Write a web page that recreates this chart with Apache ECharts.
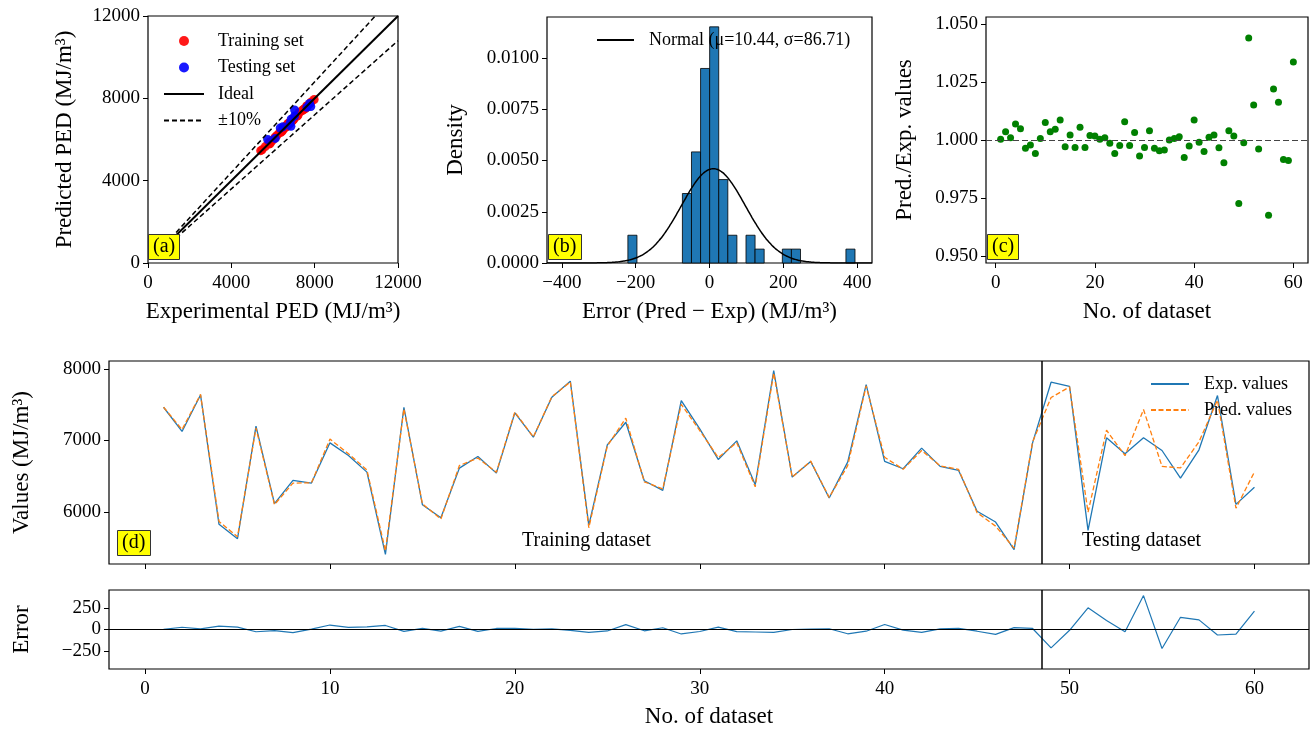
<!DOCTYPE html>
<html>
<head>
<meta charset="utf-8">
<script src="https://cdn.jsdelivr.net/npm/echarts@6/dist/echarts.min.js"></script>
<style>
  html, body { margin: 0; background: #fff; }
  #chart { width: 1315px; height: 729px; }
</style>
</head>
<body>
<div id="chart"></div>
<script>
// dataset index, experimental and predicted PED (MJ/m3)
const datasetNo = [1, 2, 3, 4, 5, 6, 7, 8, 9, 10, 11, 12, 13, 14, 15, 16, 17, 18, 19, 20,
  21, 22, 23, 24, 25, 26, 27, 28, 29, 30, 31, 32, 33, 34, 35, 36, 37, 38, 39, 40,
  41, 42, 43, 44, 45, 46, 47, 48, 49, 50, 51, 52, 53, 54, 55, 56, 57, 58, 59, 60]
const expValues = [7464, 7126, 7636, 5829, 5629, 7200, 6117, 6442, 6405, 6967,
  6791, 6558, 5410, 7464, 6103, 5922, 6614, 6777, 6544, 7386,
  7046, 7604, 7828, 5815, 6939, 7255, 6438, 6303, 7557, 7162,
  6735, 6995, 6382, 7976, 6489, 6707, 6196, 6698, 7781, 6707,
  6605, 6893, 6638, 6582, 6012, 5861, 5475, 6967, 7814, 7757,
  5745, 7037, 6814, 7037, 6860, 6475, 6870, 7628, 6108, 6348]
const predValues = [7466, 7152, 7644, 5869, 5656, 7174, 6104, 6405, 6409, 7019,
  6815, 6588, 5457, 7442, 6116, 5903, 6650, 6755, 6556, 7399,
  7048, 7612, 7817, 5781, 6922, 7312, 6423, 6323, 7505, 7139,
  6762, 6970, 6353, 7942, 6489, 6712, 6205, 6648, 7761, 6765,
  6598, 6859, 6646, 6596, 5992, 5804, 5497, 6979, 7600, 7748,
  5998, 7143, 6787, 7432, 6638, 6617, 6982, 7564, 6054, 6561]
const errValues = [2, 26, 8, 40, 27, -26, -13, -37, 4, 52,
  24, 30, 47, -22, 13, -19, 36, -22, 12, 13,
  2, 8, -11, -34, -17, 57, -15, 20, -52, -23,
  27, -25, -29, -34, 0, 5, 9, -50, -20, 58,
  -7, -34, 8, 14, -20, -57, 22, 12, -214, -9,
  253, 106, -27, 395, -222, 142, 112, -64, -54, 213]
const ratioValues = [1.0003, 1.0036, 1.0010, 1.0069, 1.0048, 0.9964, 0.9978, 0.9942, 1.0006, 1.0075,
  1.0036, 1.0046, 1.0086, 0.9971, 1.0022, 0.9968, 1.0055, 0.9968, 1.0019, 1.0017,
  1.0003, 1.0010, 0.9986, 0.9942, 0.9976, 1.0079, 0.9976, 1.0032, 0.9931, 0.9968,
  1.0040, 0.9964, 0.9954, 0.9957, 1.0000, 1.0007, 1.0014, 0.9925, 0.9974, 1.0086,
  0.9990, 0.9950, 1.0012, 1.0022, 0.9967, 0.9902, 1.0040, 1.0017, 0.9726, 0.9988,
  1.0440, 1.0151, 0.9961, 1.0561, 0.9676, 1.0220, 1.0163, 0.9916, 0.9912, 1.0336]
const trainCount = 48
const splitAt = 48.5

// histogram of errors (non-empty bins only)
const histLeft = [-221, -73.4, -48.8, -24.2, 0.4, 25, 49.6, 98.8, 123.4, 197.2, 221.8, 369.4]
const histWidth = 24.6
const histDensity = [0.001355, 0.00339, 0.00542, 0.00949, 0.01152, 0.00407,
  0.001355, 0.001355, 0.000678, 0.000678, 0.000678, 0.000678]
const normalMu = 10.44
const normalSigma = 86.71

const idealX = [1350, 12000]

const ticksPED = [0, 4000, 8000, 12000]
const ticksErrX = [-400, -200, 0, 200, 400]
const ticksDensity = [0, 0.0025, 0.005, 0.0075, 0.01]
const ticksNoSmall = [0, 20, 40, 60]
const ticksRatio = [0.95, 0.975, 1, 1.025, 1.05]
const ticksNo = [0, 10, 20, 30, 40, 50, 60]
const ticksValues = [6000, 7000, 8000]
const ticksError = [-250, 0, 250]

const FONT = '"Liberation Serif", "DejaVu Serif", serif'
const minus = v => String(v).replace('-', '\u2212')

function axis (gridIndex, min, max, ticks, extra, labelExtra) {
  return Object.assign({
    type: 'value',
    gridIndex: gridIndex,
    min: min,
    max: max,
    axisLine: { show: false, onZero: false },
    splitLine: { show: false },
    axisTick: {
      show: true,
      length: 5,
      customValues: ticks,
      lineStyle: { color: '#000', width: 1 }
    },
    axisLabel: Object.assign({
      customValues: ticks,
      color: '#000',
      fontSize: 19,
      fontFamily: FONT,
      margin: 8,
      formatter: minus
    }, labelExtra),
    nameLocation: 'middle',
    nameTextStyle: { color: '#000', fontSize: 23, fontFamily: FONT }
  }, extra)
}

const trainPoints = []
const testPoints = []
for (let i = 0; i < datasetNo.length; i++) {
  if (i < trainCount) trainPoints.push([expValues[i], predValues[i]])
  else testPoints.push([expValues[i], predValues[i]])
}

const normalCurve = []
for (let x = -440; x <= 440; x += 4) {
  const z = (x - normalMu) / normalSigma
  normalCurve.push([x, Math.exp(-0.5 * z * z) / (normalSigma * Math.sqrt(2 * Math.PI))])
}

const histData = histLeft.map((l, i) => [l, l + histWidth, histDensity[i]])

const chart = echarts.init(document.getElementById('chart'))

const gridBox = { show: true, borderColor: '#000', borderWidth: 1.2, backgroundColor: 'transparent' }
const noDot = { opacity: 0 }
const xLab = { margin: 11 }

function panelTag (text, left, top) {
  return {
    text: text,
    left: left,
    top: top,
    padding: [3, 5],
    backgroundColor: '#ffff00',
    borderColor: '#333',
    borderWidth: 1,
    textStyle: { color: '#000', fontSize: 20, fontWeight: 'normal', fontFamily: FONT }
  }
}

function plainText (text, left, top) {
  return {
    text: text,
    left: left,
    top: top,
    padding: 0,
    textStyle: { color: '#000', fontSize: 20, fontWeight: 'normal', fontFamily: FONT }
  }
}

chart.setOption({
  animation: false,
  backgroundColor: '#fff',
  title: [
    panelTag('(a)', 148, 234),
    panelTag('(b)', 548, 234),
    panelTag('(c)', 987, 234),
    panelTag('(d)', 117, 530),
    plainText('Training dataset', 522, 531),
    plainText('Testing dataset', 1082, 531)
  ],
  grid: [
    Object.assign({ left: 148, top: 16, width: 250, height: 247 }, gridBox),
    Object.assign({ left: 547, top: 17, width: 325, height: 246 }, gridBox),
    Object.assign({ left: 986, top: 17, width: 322, height: 246 }, gridBox),
    Object.assign({ left: 109, top: 361, width: 1200, height: 203 }, gridBox),
    Object.assign({ left: 109, top: 590, width: 1200, height: 79 }, gridBox)
  ],
  legend: [
    {
      left: 163,
      top: 32,
      orient: 'vertical',
      padding: 0,
      itemWidth: 40,
      itemHeight: 10,
      itemGap: 8.5,
      textStyle: { color: '#000', fontSize: 18, fontFamily: FONT, padding: [0, 0, 0, 9] },
      data: ['Training set', 'Testing set',
        { name: 'Ideal', itemStyle: noDot },
        { name: '\u00b110%', itemStyle: noDot }]
    },
    {
      left: 596,
      top: 31,
      padding: 0,
      itemWidth: 37,
      itemHeight: 10,
      textStyle: { color: '#000', fontSize: 18, fontFamily: FONT, padding: [0, 0, 0, 10] },
      data: [{ name: 'Normal (\u03bc=10.44, \u03c3=86.71)', itemStyle: noDot }]
    },
    {
      left: 1150,
      top: 375,
      orient: 'vertical',
      padding: 0,
      itemWidth: 38,
      itemHeight: 10,
      itemGap: 8,
      textStyle: { color: '#000', fontSize: 18, fontFamily: FONT, padding: [0, 0, 0, 10] },
      data: [{ name: 'Exp. values', itemStyle: noDot }, { name: 'Pred. values', itemStyle: noDot }]
    }
  ],
  xAxis: [
    axis(0, 0, 12000, ticksPED, { name: 'Experimental PED (MJ/m\u00b3)', nameGap: 37 }, xLab),
    axis(1, -440, 440, ticksErrX, { name: 'Error (Pred \u2212 Exp) (MJ/m\u00b3)', nameGap: 37 }, xLab),
    axis(2, -1.95, 62.95, ticksNoSmall, { name: 'No. of dataset', nameGap: 37 }, xLab),
    axis(3, -1.95, 62.95, ticksNo, {}, { show: false }),
    axis(4, -1.95, 62.95, ticksNo, { name: 'No. of dataset', nameGap: 36 }, xLab)
  ],
  yAxis: [
    axis(0, 0, 12000, ticksPED, { name: 'Predicted PED (MJ/m\u00b3)', nameGap: 72 }),
    axis(1, 0, 0.012, ticksDensity, { name: 'Density', nameGap: 80 }, { formatter: v => v.toFixed(4) }),
    axis(2, 0.947, 1.053, ticksRatio, { name: 'Pred./Exp. values', nameGap: 70 }, { formatter: v => v.toFixed(3) }),
    axis(3, 5275, 8110, ticksValues, { name: 'Values (MJ/m\u00b3)', nameGap: 76 }),
    axis(4, -460, 460, ticksError, { name: 'Error', nameGap: 76 })
  ],
  series: [
    {
      name: 'Ideal',
      type: 'line',
      xAxisIndex: 0,
      yAxisIndex: 0,
      symbol: 'none',
      lineStyle: { color: '#000', width: 2 },
      itemStyle: { color: '#000' },
      data: idealX.map(x => [x, x])
    },
    {
      name: '\u00b110%',
      type: 'line',
      xAxisIndex: 0,
      yAxisIndex: 0,
      symbol: 'none',
      lineStyle: { color: '#000', width: 1.5, type: [5, 3] },
      itemStyle: { color: '#000' },
      data: idealX.map(x => [x, x * 1.1])
    },
    {
      name: '\u00b110%',
      type: 'line',
      xAxisIndex: 0,
      yAxisIndex: 0,
      symbol: 'none',
      lineStyle: { color: '#000', width: 1.5, type: [5, 3] },
      itemStyle: { color: '#000' },
      data: idealX.map(x => [x, x * 0.9])
    },
    {
      name: 'Training set',
      type: 'scatter',
      xAxisIndex: 0,
      yAxisIndex: 0,
      symbolSize: 9,
      itemStyle: { color: '#ff0000', opacity: 0.9 },
      data: trainPoints
    },
    {
      name: 'Testing set',
      type: 'scatter',
      xAxisIndex: 0,
      yAxisIndex: 0,
      symbolSize: 9,
      itemStyle: { color: '#0000ff', opacity: 0.9 },
      data: testPoints
    },
    {
      name: 'hist',
      type: 'custom',
      xAxisIndex: 1,
      yAxisIndex: 1,
      encode: { x: [0, 1], y: 2 },
      renderItem: function (params, api) {
        const p0 = api.coord([api.value(0), api.value(2)])
        const p1 = api.coord([api.value(1), 0])
        return {
          type: 'rect',
          shape: { x: p0[0], y: p0[1], width: p1[0] - p0[0], height: p1[1] - p0[1] },
          style: { fill: '#1f77b4', stroke: '#000', lineWidth: 0.8 }
        }
      },
      data: histData
    },
    {
      name: 'Normal (\u03bc=10.44, \u03c3=86.71)',
      type: 'line',
      xAxisIndex: 1,
      yAxisIndex: 1,
      symbol: 'none',
      smooth: true,
      z: 3,
      lineStyle: { color: '#000', width: 1.5 },
      itemStyle: { color: '#000' },
      data: normalCurve
    },
    {
      name: 'ratio',
      type: 'scatter',
      xAxisIndex: 2,
      yAxisIndex: 2,
      symbolSize: 7,
      clip: true,
      itemStyle: { color: '#008000', opacity: 1 },
      data: datasetNo.map((n, i) => [n, ratioValues[i]]),
      markLine: {
        silent: true,
        symbol: 'none',
        label: { show: false },
        lineStyle: { color: '#444', width: 1.2, type: [6, 3] },
        data: [{ yAxis: 1 }]
      }
    },
    {
      name: 'Exp. values',
      type: 'line',
      xAxisIndex: 3,
      yAxisIndex: 3,
      symbol: 'none',
      lineStyle: { color: '#1f77b4', width: 1.3 },
      itemStyle: { color: '#1f77b4' },
      data: datasetNo.map((n, i) => [n, expValues[i]]),
      markLine: {
        silent: true,
        symbol: 'none',
        label: { show: false },
        lineStyle: { color: '#000', width: 1.5, type: 'solid' },
        data: [{ xAxis: splitAt }]
      }
    },
    {
      name: 'Pred. values',
      type: 'line',
      xAxisIndex: 3,
      yAxisIndex: 3,
      symbol: 'none',
      lineStyle: { color: '#ff7f0e', width: 1.3, type: [5, 2.5] },
      itemStyle: { color: '#ff7f0e' },
      data: datasetNo.map((n, i) => [n, predValues[i]])
    },
    {
      name: 'Error',
      type: 'line',
      xAxisIndex: 4,
      yAxisIndex: 4,
      symbol: 'none',
      lineStyle: { color: '#1f77b4', width: 1.2 },
      itemStyle: { color: '#1f77b4' },
      data: datasetNo.map((n, i) => [n, errValues[i]]),
      markLine: {
        silent: true,
        symbol: 'none',
        label: { show: false },
        lineStyle: { color: '#000', width: 1.2, type: 'solid' },
        data: [{ yAxis: 0 }, { xAxis: splitAt, lineStyle: { width: 1.5 } }]
      }
    }
  ]
})
</script>
</body>
</html>
